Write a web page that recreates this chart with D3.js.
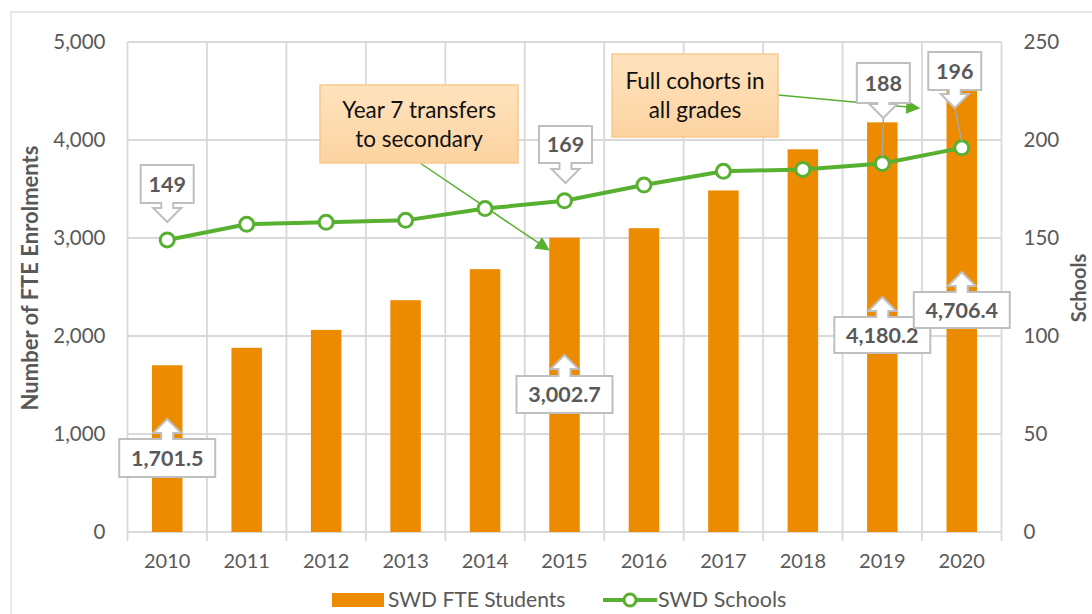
<!DOCTYPE html>
<html><head><meta charset="utf-8">
<script src="https://cdn.jsdelivr.net/npm/d3@7"></script>
<style>body{margin:0;background:#fff}svg{display:block;font-family:Lato,"Open Sans",sans-serif}</style>
</head><body><svg id="c" width="1092" height="614"></svg>
<script>
const years = ["2010","2011","2012","2013","2014","2015","2016","2017","2018","2019","2020"];
const fteStudents = [1701.5,1880,2062,2365,2682,3002.7,3100,3485,3905,4180.2,4706.4];
const schools = [149,157,158,159,165,169,177,184,185,188,196];
const leftTicks = [0,1000,2000,3000,4000,5000];
const rightTicks = [0,50,100,150,200,250];
const barLabelYears = ["2010","2015","2019","2020"];
const lineLabelYears = ["2010","2015","2019","2020"];
const notes = [
  {lines:["Year 7 transfers","to secondary"], target:"2015", series:"bar"},
  {lines:["Full cohorts in","all grades"], target:"2020", series:"line"}
];

const svg = d3.select("#c");
const gray = "#595959", grid = "#d9d9d9", orange = "#ED8B00", green = "#58B031";
const L = 127.5, R = 1001.5, T = 42, B = 532;

svg.append("rect").attr("x",11).attr("y",12).attr("width",1100).attr("height",620)
  .attr("fill","none").attr("stroke","#d9d9d9").attr("stroke-width",1.2);

const x = d3.scaleBand().domain(years).range([L,R]);
const yL = d3.scaleLinear().domain([0,5000]).range([B,T]);
const yR = d3.scaleLinear().domain([0,250]).range([B,T]);
const cx = d => x(d)+x.bandwidth()/2;

// gridlines
svg.append("g").selectAll("line").data(leftTicks).join("line")
  .attr("x1",L).attr("x2",R).attr("y1",d=>yL(d)).attr("y2",d=>yL(d))
  .attr("stroke",grid).attr("stroke-width",1.8);
const bounds = years.map(d=>x(d)).concat([R]);
svg.append("g").selectAll("line").data(bounds).join("line")
  .attr("x1",d=>d).attr("x2",d=>d).attr("y1",T).attr("y2",B+9)
  .attr("stroke",grid).attr("stroke-width",1.8);

// axes
const ax = svg.append("g").attr("transform",`translate(${L},0)`)
  .call(d3.axisLeft(yL).tickValues(leftTicks).tickFormat(d3.format(",")).tickSize(0).tickPadding(22));
const axR = svg.append("g").attr("transform",`translate(${R},0)`)
  .call(d3.axisRight(yR).tickValues(rightTicks).tickSize(0).tickPadding(22));
const axB = svg.append("g").attr("transform",`translate(0,${B})`)
  .call(d3.axisBottom(x).tickSize(0).tickPadding(22));
[ax,axR,axB].forEach(a=>{a.select(".domain").remove();a.selectAll("text").attr("fill",gray).style("font-size","20.5px").style("font-family","Lato,sans-serif");});
axB.selectAll("text").style("font-size","20px");

// axis titles
svg.append("text").attr("transform","translate(38,278) rotate(-90)").attr("text-anchor","middle")
  .attr("fill",gray).style("font-size","22px").style("font-weight","bold").text("Number of FTE  Enrolments");
svg.append("text").attr("transform","translate(1086,288) rotate(-90)").attr("text-anchor","middle")
  .attr("fill",gray).style("font-size","20px").style("font-weight","bold").text("Schools");

// bars
const bw = 30.5;
svg.append("g").selectAll("rect").data(years).join("rect")
  .attr("x",(d)=>cx(d)-bw/2).attr("width",bw)
  .attr("y",(d,i)=>yL(fteStudents[i])).attr("height",(d,i)=>B-yL(fteStudents[i]))
  .attr("fill",orange);

// line
const line = d3.line().x((d,i)=>cx(years[i])).y(d=>yR(d));
svg.append("path").datum(schools).attr("d",line).attr("fill","none").attr("stroke",green).attr("stroke-width",4);

// notes
const defs = svg.append("defs");
defs.append("marker").attr("id","ah").attr("viewBox","0 0 10 10").attr("refX",9).attr("refY",5)
  .attr("markerWidth",14).attr("markerHeight",14).attr("markerUnits","userSpaceOnUse").attr("orient","auto")
  .append("path").attr("d","M0,0L10,5L0,10Z").attr("fill",green);
const lg = defs.append("linearGradient").attr("id","ng").attr("x1",0).attr("y1",0).attr("x2",0).attr("y2",1);
lg.append("stop").attr("offset","0%").attr("stop-color","#FFE3BE");
lg.append("stop").attr("offset","100%").attr("stop-color","#FCD3A1");

const noteBoxes = [
  {x:320,y:85,w:198,h:78, from:[420,163], to:[cx("2015")-16, yL(fteStudents[5])+12]},
  {x:612,y:54,w:166,h:83, from:[778,95], to:[cx("2020")-43, 108]}
];
noteBoxes.forEach((b,i)=>{
  const g = svg.append("g");
  g.append("line").attr("x1",b.from[0]).attr("y1",b.from[1]).attr("x2",b.to[0]).attr("y2",b.to[1])
    .attr("stroke",green).attr("stroke-width",1.5).attr("marker-end","url(#ah)");
  g.append("rect").attr("x",b.x).attr("y",b.y).attr("width",b.w).attr("height",b.h)
    .attr("fill","url(#ng)").attr("stroke","#F9C98C").attr("stroke-width",1.5);
  notes[i].lines.forEach((t,j)=>{
    g.append("text").attr("x",b.x+b.w/2).attr("y",b.y+b.h/2+(j-0.5)*29+8).attr("text-anchor","middle")
      .attr("fill","#111").style("font-size","22.5px").text(t);
  });
});

// markers
svg.append("g").selectAll("circle").data(schools).join("circle")
  .attr("cx",(d,i)=>cx(years[i])).attr("cy",d=>yR(d)).attr("r",7)
  .attr("fill","#fff").attr("stroke",green).attr("stroke-width",3);

// callouts
function callout(g, cxp, boxY, w, h, dir, tipY, text){
  const sw=6, hw=14, head=14;
  const l=cxp-w/2, r=cxp+w/2, t=boxY, b=boxY+h;
  let p;
  if(dir==="down"){
    const hb = tipY-head;
    p=`M${l},${t}H${r}V${b}H${cxp+sw}V${hb}H${cxp+hw}L${cxp},${tipY}L${cxp-hw},${hb}H${cxp-sw}V${b}H${l}Z`;
  } else {
    const hb = tipY+head;
    p=`M${l},${t}H${cxp-sw}V${hb}H${cxp-hw}L${cxp},${tipY}L${cxp+hw},${hb}H${cxp+sw}V${t}H${r}V${b}H${l}Z`;
  }
  g.append("path").attr("d",p).attr("fill","#fff").attr("stroke","#bfbfbf").attr("stroke-width",2);
  g.append("text").attr("x",cxp).attr("y",t+h/2+7.5).attr("text-anchor","middle").attr("fill",gray)
    .style("font-size","21.5px").style("font-weight","bold").text(text);
}
const cg = svg.append("g");
const lineLayout = {"2010":[165,38,222,0],"2015":[126,37,183,1],"2019":[63,40,118,1],"2020":[52,38,108,-7]};
lineLabelYears.forEach(yr=>{
  const i = years.indexOf(yr), lay=lineLayout[yr];
  const px = cx(yr), py = yR(schools[i]);
  if(lay[2] < py-25){
    cg.append("line").attr("x1",px+lay[3]).attr("y1",lay[2]).attr("x2",px).attr("y2",py-7)
      .attr("stroke","#a6a6a6").attr("stroke-width",1.5);
  }
  callout(cg, px+lay[3], lay[0], 53, lay[1], "down", lay[2], d3.format(",")(schools[i]));
});
const barLayout = {"2010":[439,38,419,0],"2015":[376,37,355,0],"2019":[317,36,297,0],"2020":[292,36,272,0]};
barLabelYears.forEach(yr=>{
  const i = years.indexOf(yr), lay=barLayout[yr];
  callout(cg, cx(yr)+lay[3], lay[0], 96, lay[1], "up", lay[2], d3.format(",.1f")(fteStudents[i]));
});

// legend
const lgd = svg.append("g");
lgd.append("rect").attr("x",332).attr("y",593).attr("width",52).attr("height",14).attr("fill",orange);
lgd.append("text").attr("x",388).attr("y",607).attr("fill",gray).style("font-size","21px").text("SWD FTE Students");
lgd.append("line").attr("x1",603).attr("x2",657).attr("y1",600).attr("y2",600).attr("stroke",green).attr("stroke-width",4);
lgd.append("circle").attr("cx",630).attr("cy",600).attr("r",6).attr("fill","#fff").attr("stroke",green).attr("stroke-width",3);
lgd.append("text").attr("x",658).attr("y",607).attr("fill",gray).style("font-size","21.5px").text("SWD Schools");
</script></body></html>
